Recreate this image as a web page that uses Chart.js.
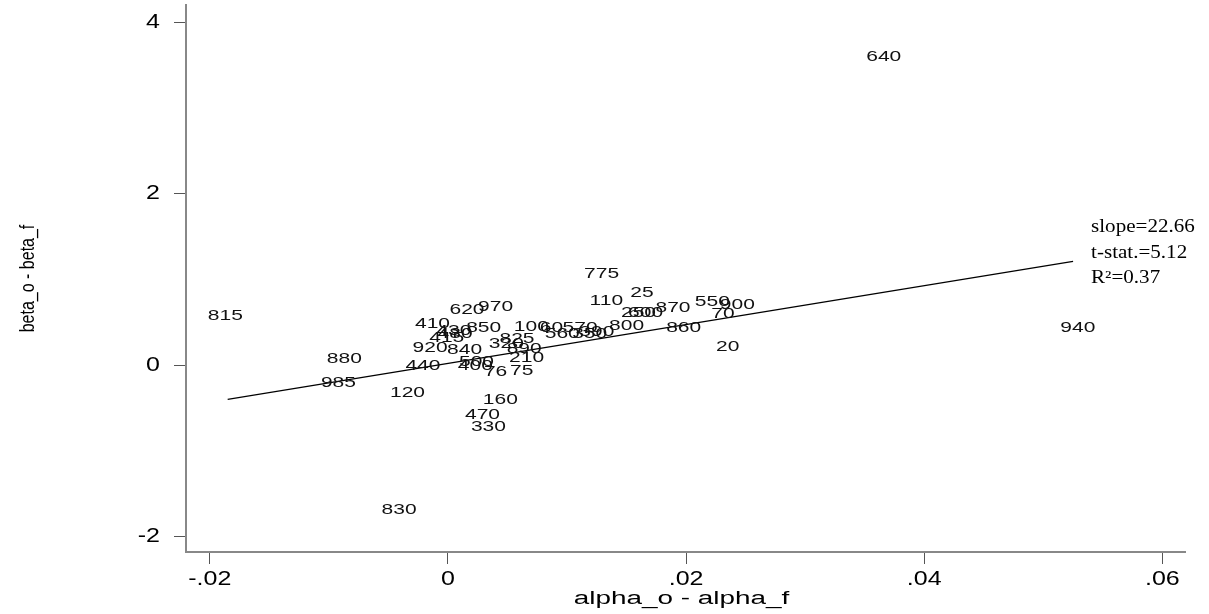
<!DOCTYPE html>
<html lang="en">
<head>
    <meta charset="UTF-8">
    <title>beta vs alpha</title>
    <script src="https://cdn.jsdelivr.net/npm/chart.js"></script>
    <style>
      body { margin: 0; background: #fff; }
    </style>
</head>
<body>
    <div style="width: 1209px; height: 614px;">
        <canvas id="grafico"></canvas>
    </div>

    <script>
      // fund ids and their differences
      const ids = ["640","775","25","110","870","550","900","70","250","600","800","860","20","940","815",
                   "620","970","410","430","480","850","100","60","570","560","350","390","415","920","840",
                   "825","320","890","210","440","400","500","76","75","880","985","120","160","470","330","830"]
      const dAlpha = [0.0366,0.0129,0.0163,0.0133,0.0189,0.0222,0.0243,0.0231,0.0160,0.0166,0.0150,0.0198,0.0235,0.0529,-0.0187,
                      0.0016,0.0040,-0.0013,0.0005,0.0006,0.0030,0.0070,0.0087,0.0111,0.0096,0.0119,0.0125,-0.0001,-0.0015,0.0014,
                      0.0058,0.0049,0.0064,0.0066,-0.0021,0.0023,0.0024,0.0040,0.0062,-0.0087,-0.0092,-0.0034,0.0044,0.0029,0.0034,-0.0041]
      const dBeta = [3.59,1.06,0.84,0.75,0.67,0.74,0.70,0.60,0.61,0.61,0.46,0.44,0.21,0.44,0.57,
                     0.65,0.68,0.48,0.40,0.37,0.43,0.45,0.43,0.43,0.36,0.36,0.39,0.32,0.20,0.18,
                     0.31,0.25,0.19,0.09,-0.01,-0.01,0.04,-0.08,-0.07,0.07,-0.21,-0.32,-0.41,-0.58,-0.72,-1.69]

      const slope = 22.66
      const intercept = 0.02
      const statsText = ["slope=22.66", "t-stat.=5.12", "R\u00B2=0.37"]

      const xTicks = [-0.02, 0, 0.02, 0.04, 0.06]
      const xTickLabels = ["-.02", "0", ".02", ".04", ".06"]
      const yTicks = [-2, 0, 2, 4]
      const yTickLabels = ["-2", "0", "2", "4"]
      const xTitle = "alpha_o - alpha_f"
      const yTitle = "beta_o - beta_f"

      const pontos = dAlpha.map((v, i) => ({ x: v, y: dBeta[i] }))
      const xMin = Math.min(...dAlpha) + 0.0002
      const xMax = Math.max(...dAlpha) - 0.0004
      const reta = [xMin, xMax].map(v => ({ x: v, y: intercept + slope * v }))

      // stata-like text is wider than it is tall, so stretch it sideways
      function texto(ctx, s, x, y, font, align, sx, rot) {
        ctx.save()
        ctx.translate(x, y)
        if (rot) {
          ctx.rotate(rot)
          ctx.scale(1, sx)
        } else {
          ctx.scale(sx, 1)
        }
        ctx.font = font
        ctx.textAlign = align
        ctx.textBaseline = "middle"
        ctx.fillText(s, 0, 0)
        ctx.restore()
      }

      const camadaTexto = {
        id: "camadaTexto",
        afterDraw(chart) {
          const ctx = chart.ctx
          const sx = chart.scales.x, sy = chart.scales.y
          const area = chart.chartArea

          ctx.fillStyle = "#111"
          pontos.forEach((p, i) => {
            texto(ctx, ids[i], sx.getPixelForValue(p.x), sy.getPixelForValue(p.y),
                  "15px 'Liberation Sans'", "center", 1.4)
          })

          ctx.fillStyle = "#000"
          xTicks.forEach((v, i) => {
            texto(ctx, xTickLabels[i], sx.getPixelForValue(v), area.bottom + 27,
                  "20px 'Liberation Sans'", "center", 1.25)
          })
          yTicks.forEach((v, i) => {
            texto(ctx, yTickLabels[i], area.left - 26, sy.getPixelForValue(v),
                  "20px 'Liberation Sans'", "right", 1.25)
          })

          texto(ctx, xTitle, (area.left + area.right) / 2 - 4, area.bottom + 47,
                "18px 'Liberation Sans'", "center", 1.55)
          texto(ctx, yTitle, 28, (area.top + area.bottom) / 2,
                "16px 'Liberation Sans'", "center", 1.3, -Math.PI / 2)

          // regression stats next to the end of the fitted line
          const fim = reta[reta.length - 1]
          const ex = sx.getPixelForValue(fim.x) + 18
          const ey = sy.getPixelForValue(fim.y)
          statsText.forEach((s, i) => {
            texto(ctx, s, ex, ey - 34 + i * 25.5, "18px 'Liberation Serif'", "left", 1.17)
          })
        }
      }

      const eixo = {
        grid: { display: true, drawOnChartArea: false, drawTicks: true, tickLength: 12, color: "#555", lineWidth: 1 },
        border: { display: true, color: "#888", width: 2 },
        ticks: { display: false }
      }

      new Chart(document.getElementById("grafico"), {
        type: "scatter",
        data: {
          datasets: [
            { data: pontos, pointRadius: 0, showLine: false },
            { type: "line", data: reta, borderColor: "#000", borderWidth: 1.3, pointRadius: 0, fill: false }
          ]
        },
        options: {
          responsive: true,
          maintainAspectRatio: false,
          animation: false,
          layout: { padding: { left: 0, right: 24, top: 5, bottom: 0 } },
          plugins: { legend: { display: false }, tooltip: { enabled: false } },
          scales: {
            x: {
              ...eixo, type: "linear", min: -0.022, max: 0.0619,
              afterBuildTicks: s => { s.ticks = xTicks.map(v => ({ value: v })) },
              afterFit: s => { s.height = 62 }
            },
            y: {
              ...eixo, type: "linear", min: -2.18, max: 4.2,
              afterBuildTicks: s => { s.ticks = yTicks.map(v => ({ value: v })) },
              afterFit: s => { s.width = 186 }
            }
          }
        },
        plugins: [camadaTexto]
      })
    </script>
</body>
</html>
